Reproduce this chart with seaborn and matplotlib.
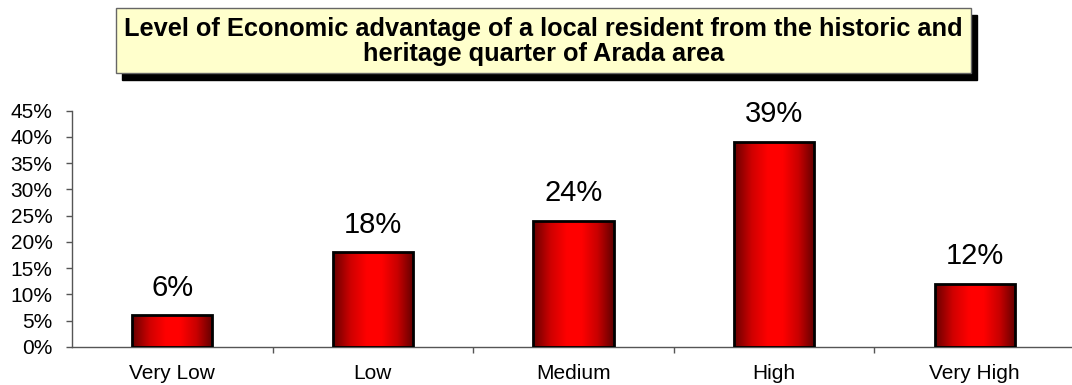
import numpy as np
import pandas as pd
import matplotlib
matplotlib.use("Agg")
import matplotlib.pyplot as plt
from matplotlib.colors import LinearSegmentedColormap
from matplotlib.patches import Rectangle
from matplotlib.ticker import PercentFormatter, MultipleLocator
import seaborn as sns

# Survey answers
levels = ["Very Low", "Low", "Medium", "High", "Very High"]
shares = [0.06, 0.18, 0.24, 0.39, 0.12]
value_labels = ["6%", "18%", "24%", "39%", "12%"]
title_text = ("Level of Economic advantage of a local resident from the historic and\n"
              "heritage quarter of Arada area")

sns.set_theme(style="white")
plt.rcParams["font.family"] = ["Liberation Sans", "DejaVu Sans"]

df = pd.DataFrame({"level": levels, "share": shares})

fig = plt.figure(figsize=(10.72, 3.85), dpi=100)
ax = fig.add_axes([72 / 1072, 38 / 385, 1003 / 1072, 236.5 / 385])

sns.barplot(data=df, x="level", y="share", order=levels, color="red",
            width=0.4, edgecolor="black", linewidth=2.0, saturation=1,
            ax=ax, zorder=3)

# Horizontal dark-red / red / dark-red shading inside each bar
shade = LinearSegmentedColormap.from_list(
    "bar_shade",
    [(0.0, "#680000"), (0.22, "#d00000"), (0.42, "#ff0000"),
     (0.6, "#ff0000"), (0.8, "#c80000"), (1.0, "#600000")])
grad = np.linspace(0, 1, 256).reshape(1, -1)
for patch in ax.patches:
    x0, y0 = patch.get_x(), patch.get_y()
    w, h = patch.get_width(), patch.get_height()
    img = ax.imshow(grad, cmap=shade, aspect="auto",
                    extent=(x0, x0 + w, y0, y0 + h), zorder=2,
                    interpolation="bicubic")
    img.set_clip_path(patch)
    patch.set_facecolor("none")

ax.set_xlim(-0.5, 4.5)
ax.set_ylim(0, 0.45)
ax.yaxis.set_major_locator(MultipleLocator(0.05))
ax.yaxis.set_major_formatter(PercentFormatter(1.0, decimals=0))

# Value labels above the bars
for i, (v, lab) in enumerate(zip(shares, value_labels)):
    ax.annotate(lab, xy=(i, v), xytext=(0, 10), textcoords="offset points",
                ha="center", va="bottom", fontsize=21, color="black")

# Axes styling
for side in ("top", "right"):
    ax.spines[side].set_visible(False)
for side in ("left", "bottom"):
    ax.spines[side].set_color("#555555")
    ax.spines[side].set_linewidth(1.0)

ax.set_xlabel("")
ax.set_ylabel("")
ax.tick_params(axis="y", which="major", left=True, direction="out", length=4,
               width=1, color="#555555", labelsize=15, pad=10, labelcolor="black")
ax.tick_params(axis="x", which="major", bottom=True, length=0, labelsize=15, pad=12,
               labelcolor="black")
ax.set_xticks([0.5, 1.5, 2.5, 3.5], minor=True)
ax.tick_params(axis="x", which="minor", bottom=True, direction="out", length=4,
               width=1, color="#555555")

# Title inside a pale yellow box with a drop shadow
bx0, by0, bw, bh = 116 / 1072, 1 - 73 / 385, 855 / 1072, 65 / 385
sx, sy = 6 / 1072, -7 / 385
fig.patches.append(Rectangle((bx0 + sx, by0 + sy), bw, bh, transform=fig.transFigure,
                             facecolor="black", edgecolor="black", zorder=1))
fig.patches.append(Rectangle((bx0, by0), bw, bh, transform=fig.transFigure,
                             facecolor="#ffffcc", edgecolor="#666666", linewidth=1.0,
                             zorder=2))
fig.text(bx0 + bw / 2, by0 + bh / 2 - 1 / 385, title_text, ha="center", va="center",
         fontsize=18.3, fontweight="bold", color="black", linespacing=1.05, zorder=3)

fig.savefig("out.png", dpi=100)
